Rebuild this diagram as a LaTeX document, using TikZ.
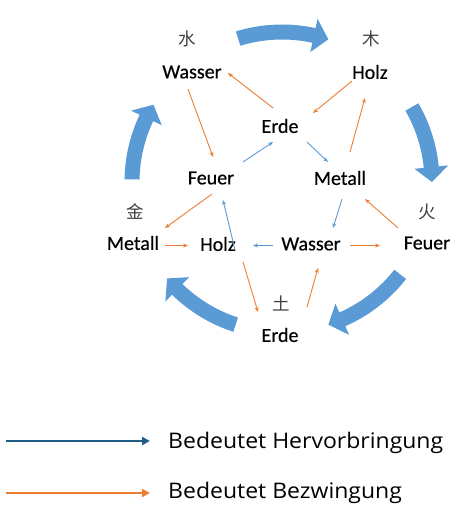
\documentclass[tikz,border=0pt]{standalone}
\usepackage{fontspec}
\setmainfont{Carlito}
\newfontfamily\lblfont[FakeBold=0.5]{Carlito}
\newfontfamily\cjk{Noto Sans CJK SC}
\newfontfamily\legfont[FakeStretch=1.07]{Open Sans}
\usetikzlibrary{arrows.meta,calc}
\definecolor{bigblue}{HTML}{5B9BD5}
\definecolor{orng}{HTML}{ED7D31}
\definecolor{legblue}{HTML}{1F5F85}
\definecolor{cjkgray}{HTML}{404040}
\begin{document}
\begin{tikzpicture}[x=1pt,y=-1pt,
 lbl/.style={inner sep=0pt, font=\lblfont\fontsize{20}{22}\selectfont, text=black},
 han/.style={inner sep=0pt, font=\cjk\fontsize{17.5}{19}\selectfont, text=cjkgray},
 ctrl/.style={draw=orng, line width=0.9pt, -{Stealth[length=5pt,width=4pt]}},
 gen/.style={draw=bigblue, line width=0.9pt, -{Stealth[length=5pt,width=4pt]}},
 bigarrow/.style={fill=bigblue},
 legline/.style={line width=2pt, -{Triangle[length=8pt,width=8pt]}},
 legtext/.style={inner sep=0pt, anchor=base west, font=\legfont\fontsize{21.5}{23}\selectfont},
]
\useasboundingbox (0,0) rectangle (466,507);
\coordinate (o) at (282,182);
% big cycle arrows
\foreach \t/\p in {-107/-72,-30/0,38/72,108/140,181/211}{
  \pgfmathsetmacro{\h}{\p-5.7}
  \fill[bigarrow] ($(o)+(\t:157.5)$) arc[start angle=\t, end angle=\h, radius=157.5]
    -- ($(o)+(\h:167)$) -- ($(o)+(\p:150)$) -- ($(o)+(\h:133)$) -- ($(o)+(\h:142.5)$)
    arc[start angle=\h, end angle=\t, radius=142.5] -- cycle;
}
% characters
\node[han] (c1) at (187,39) {水};
\node[han] (c2) at (371,39) {木};
\node[han] (c3) at (135,212) {金};
\node[han] (c4) at (427,212) {火};
\node[han] (c5) at (281,303) {土};
% labels
\node[lbl] (w1) at (192,72) {Wasser};
\node[lbl] (h1) at (370,72) {Holz};
\node[lbl] (e1) at (280,126) {Erde};
\node[lbl] (f1) at (211,178) {Feuer};
\node[lbl] (m1) at (340,178) {Metall};
\node[lbl] (m2) at (133,243) {Metall};
\node[lbl] (h2) at (218,244) {Holz};
\node[lbl] (w2) at (311,244) {Wasser};
\node[lbl] (f2) at (427,243) {Feuer};
\node[lbl] (e2) at (280,335) {Erde};
% controlling (orange)
\draw[ctrl] ([shift={(-7,-18)}]e1.center) -- ([shift={(36,1)}]w1.center);
\draw[ctrl] ([shift={(-18,9)}]h1.center) -- ([shift={(33,-13)}]e1.center);
\draw[ctrl] ([shift={(-4,17)}]w1.center) -- ([shift={(2,-21)}]f1.center);
\draw[ctrl] ([shift={(10,-26)}]m1.center) -- ([shift={(-5,26)}]h1.center);
\draw[ctrl] ([shift={(1,16)}]f1.center) -- ([shift={(32,-15)}]m2.center);
\draw[ctrl] ([shift={(32,2.5)}]m2.center) -- ([shift={(-30,1.5)}]h2.center);
\draw[ctrl] ([shift={(25,18)}]h2.center) -- ([shift={(-22,-23)}]e2.center);
\draw[ctrl] ([shift={(27,-28)}]e2.center) -- ([shift={(7,24)}]w2.center);
\draw[ctrl] ([shift={(39,1.5)}]w2.center) -- ([shift={(-47,2.5)}]f2.center);
\draw[ctrl] ([shift={(-29,-15)}]f2.center) -- ([shift={(25,21)}]m1.center);
% generating (blue)
\draw[gen] ([shift={(32,-16)}]f1.center) -- ([shift={(-7,16)}]e1.center);
\draw[gen] ([shift={(27,16)}]e1.center) -- ([shift={(-12,-16)}]m1.center);
\draw[gen] ([shift={(17,6)}]h2.center) -- ([shift={(12,22)}]f1.center);
\draw[gen] ([shift={(-38,1.5)}]w2.center) -- ([shift={(35,1.5)}]h2.center);
\draw[gen] ([shift={(2,21)}]m1.center) -- ([shift={(22,-16)}]w2.center);
% legend
\coordinate (ls1) at (6,441);
\coordinate (le1) at (150,441);
\coordinate (ls2) at (6,493);
\coordinate (le2) at (150,493);
\draw[legline, draw=legblue, fill=legblue] (ls1) -- (le1);
\draw[legline, draw=orng, fill=orng] (ls2) -- (le2);
\node[legtext] (lt1) at (168,448) {Bedeutet Hervorbringung};
\node[legtext] (lt2) at (168,498) {Bedeutet Bezwingung};
\end{tikzpicture}
\end{document}
